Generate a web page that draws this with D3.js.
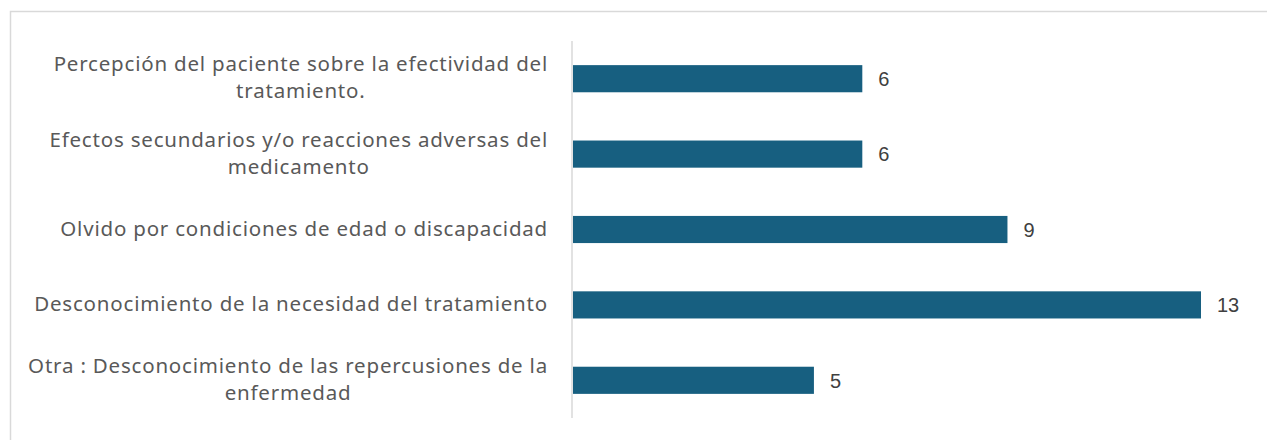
<!DOCTYPE html>
<html>
<head>
<meta charset="utf-8">
<script src="https://cdn.jsdelivr.net/npm/d3@7"></script>
<style>
  body { margin: 0; background: #fff; }
</style>
</head>
<body>
<script>
const categories = [
  ['Percepción del paciente sobre la efectividad del', 'tratamiento.'],
  ['Efectos secundarios y/o reacciones adversas del', 'medicamento'],
  ['Olvido por condiciones de edad o discapacidad'],
  ['Desconocimiento de la necesidad del tratamiento'],
  ['Otra : Desconocimiento de las repercusiones de la', 'enfermedad']
];
const values = [6, 6, 9, 13, 5];

function main() {
  const width = 1267;
  const height = 440;
  const svg = d3.select('body').append('svg')
    .attr('width', width)
    .attr('height', height);

  svg.append('rect')
    .attr('x', 10.5).attr('y', 11.5)
    .attr('width', width).attr('height', height)
    .attr('fill', 'none')
    .attr('stroke', '#d9d9d9')
    .attr('stroke-width', 1.5);

  const x = d3.scaleLinear().domain([0, 13]).range([572, 1201]);
  const y = d3.scaleBand()
    .domain(d3.range(categories.length))
    .range([41, 418])
    .paddingInner(0.64)
    .paddingOuter(0.32);

  svg.append('line')
    .attr('x1', 572).attr('x2', 572)
    .attr('y1', 41).attr('y2', 418)
    .attr('stroke', '#d9d9d9')
    .attr('stroke-width', 1.5);

  svg.append('g')
    .selectAll('rect')
    .data(values)
    .enter()
    .append('rect')
    .attr('x', x(0) + 1)
    .attr('y', (d, i) => y(i))
    .attr('width', d => x(d) - x(0) - 1)
    .attr('height', y.bandwidth())
    .attr('fill', '#175f80');

  svg.append('g')
    .selectAll('text')
    .data(values)
    .enter()
    .append('text')
    .attr('x', d => x(d) + 16)
    .attr('y', (d, i) => y(i) + y.bandwidth() / 2)
    .attr('dy', '0.36em')
    .attr('font-family', 'Liberation Sans, Arial, sans-serif')
    .attr('font-size', 20)
    .attr('fill', '#404040')
    .text(d => d);

  const labelRight = 548;
  const lineH = 27;
  const labels = svg.append('g')
    .attr('font-family', 'Noto Sans, sans-serif')
    .attr('font-size', 20.5)
    .attr('letter-spacing', 0.8)
    .attr('fill', '#595959');

  categories.forEach((lines, i) => {
    const cy = y(i) + y.bandwidth() / 2;
    const t = labels.append('text').attr('text-anchor', 'middle');
    const spans = lines.map((s, k) => t.append('tspan')
      .attr('y', cy + (k - (lines.length - 1) / 2) * lineH)
      .attr('dy', '0.3em')
      .text(s));
    const maxW = d3.max(spans, s => s.node().getComputedTextLength());
    spans.forEach(s => s.attr('x', labelRight - maxW / 2));
  });
}

main();
</script>
</body>
</html>
